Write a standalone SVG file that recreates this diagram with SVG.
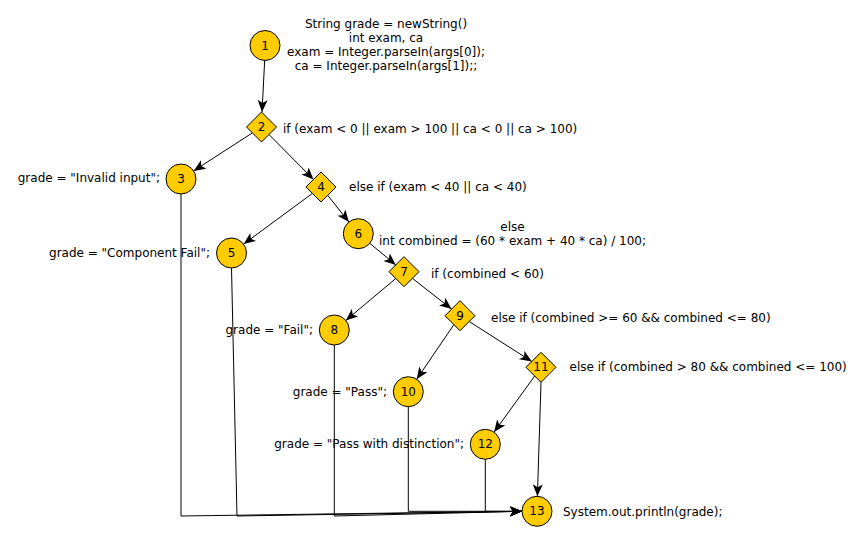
<svg xmlns="http://www.w3.org/2000/svg" width="864" height="541" viewBox="0 0 864 541">
<style>
  .n { fill: #ffcc00; stroke: #000; stroke-width: 1; }
  .num { font-family: "DejaVu Sans", sans-serif; font-size: 12px; fill: #000; text-anchor: middle; dominant-baseline: central; }
  .lbl { font-family: "DejaVu Sans", sans-serif; font-size: 12px; fill: #000; dominant-baseline: central; }
  .e { fill: none; stroke: #000; stroke-width: 1; marker-end: url(#arr); }
</style>
<defs>
  <marker id="arr" markerUnits="userSpaceOnUse" markerWidth="13" markerHeight="11" refX="12" refY="5" orient="auto">
    <path d="M0,0 L12,5 L0,10 L3,5 z" fill="#000"/>
  </marker>
</defs>
<rect width="864" height="541" fill="#fff"/>
<g id="connectors">
  <line class="e" x1="264.7" y1="60" x2="262" y2="112"/>
  <line class="e" x1="252.4" y1="132.9" x2="193.6" y2="170.9"/>
  <line class="e" x1="269" y1="134.5" x2="313.5" y2="179.5"/>
  <line class="e" x1="312.4" y1="193.4" x2="243.6" y2="244.1"/>
  <line class="e" x1="327.7" y1="195.3" x2="348.9" y2="222"/>
  <line class="e" x1="369.8" y1="243.3" x2="395.8" y2="264.9"/>
  <line class="e" x1="395.8" y1="278.5" x2="345.8" y2="320.4"/>
  <line class="e" x1="412.4" y1="278.3" x2="451.6" y2="309.1"/>
  <line class="e" x1="453.9" y1="324.6" x2="416.7" y2="379.3"/>
  <line class="e" x1="469.2" y1="321.5" x2="531.8" y2="361.5"/>
  <line class="e" x1="534.7" y1="376" x2="494.1" y2="432.1"/>
  <line class="e" x1="541" y1="382.3" x2="537.4" y2="496.3"/>
  <polyline class="e" points="181,194 181,516 522,511.3"/>
  <polyline class="e" points="231.5,268 237,516 522,511.3"/>
  <polyline class="e" points="334.3,345 334.3,516 522,511.3"/>
  <polyline class="e" points="408.3,406.7 408.3,511.3 522,511.3"/>
  <polyline class="e" points="485.3,459.3 485.3,511.3 522,511.3"/>
</g>
<g id="node1">
  <circle class="n" cx="265" cy="45.5" r="15"/>
  <text class="num" x="265" y="45.5">1</text>
  <text class="lbl" text-anchor="middle" x="386" y="24">String grade = newString()</text>
  <text class="lbl" text-anchor="middle" x="386" y="38">int exam, ca</text>
  <text class="lbl" text-anchor="middle" x="386" y="52">exam = Integer.parseIn(args[0]);</text>
  <text class="lbl" text-anchor="middle" x="386" y="66">ca = Integer.parseIn(args[1]);;</text>
</g>
<g id="node2">
  <polygon class="n" points="261.5,112 276.5,127 261.5,142 246.5,127"/>
  <text class="num" x="261.5" y="127">2</text>
  <text class="lbl" x="283" y="128.5">if (exam &lt; 0 || exam &gt; 100 || ca &lt; 0 || ca &gt; 100)</text>
</g>
<g id="node3">
  <circle class="n" cx="181" cy="179" r="15"/>
  <text class="num" x="181" y="179">3</text>
  <text class="lbl" text-anchor="end" x="160" y="178">grade = "Invalid input";</text>
</g>
<g id="node4">
  <polygon class="n" points="321,172 336,187 321,202 306,187"/>
  <text class="num" x="321" y="187">4</text>
  <text class="lbl" x="349" y="187">else if (exam &lt; 40 || ca &lt; 40)</text>
</g>
<g id="node5">
  <circle class="n" cx="231.5" cy="253" r="15"/>
  <text class="num" x="231.5" y="253">5</text>
  <text class="lbl" text-anchor="end" x="210" y="253">grade = "Component Fail";</text>
</g>
<g id="node6">
  <circle class="n" cx="358.3" cy="233.7" r="15"/>
  <text class="num" x="358.3" y="233.7">6</text>
  <text class="lbl" text-anchor="middle" x="512.5" y="226.5">else</text>
  <text class="lbl" text-anchor="middle" x="512.5" y="240.5">int combined = (60 * exam + 40 * ca) / 100;</text>
</g>
<g id="node7">
  <polygon class="n" points="404,256.7 419,271.7 404,286.7 389,271.7"/>
  <text class="num" x="404" y="271.7">7</text>
  <text class="lbl" x="431" y="273.5">if (combined &lt; 60)</text>
</g>
<g id="node8">
  <circle class="n" cx="334.3" cy="330" r="15"/>
  <text class="num" x="334.3" y="330">8</text>
  <text class="lbl" text-anchor="end" x="313" y="330">grade = "Fail";</text>
</g>
<g id="node9">
  <polygon class="n" points="460,300.7 475,315.7 460,330.7 445,315.7"/>
  <text class="num" x="460" y="315.7">9</text>
  <text class="lbl" x="491" y="317.7">else if (combined &gt;= 60 &amp;&amp; combined &lt;= 80)</text>
</g>
<g id="node10">
  <circle class="n" cx="408.3" cy="391.7" r="15"/>
  <text class="num" x="408.3" y="391.7">10</text>
  <text class="lbl" text-anchor="end" x="387" y="391.7">grade = "Pass";</text>
</g>
<g id="node11">
  <polygon class="n" points="541,352.3 556,367.3 541,382.3 526,367.3"/>
  <text class="num" x="541" y="367.3">11</text>
  <text class="lbl" x="569.5" y="367.3">else if (combined &gt; 80 &amp;&amp; combined &lt;= 100)</text>
</g>
<g id="node12">
  <circle class="n" cx="485.3" cy="444.3" r="15"/>
  <text class="num" x="485.3" y="444.3">12</text>
  <text class="lbl" text-anchor="end" x="464" y="443.5">grade = "Pass with distinction";</text>
</g>
<g id="node13">
  <circle class="n" cx="537" cy="511.3" r="15"/>
  <text class="num" x="537" y="511.3">13</text>
  <text class="lbl" x="563" y="512">System.out.println(grade);</text>
</g>
</svg>
